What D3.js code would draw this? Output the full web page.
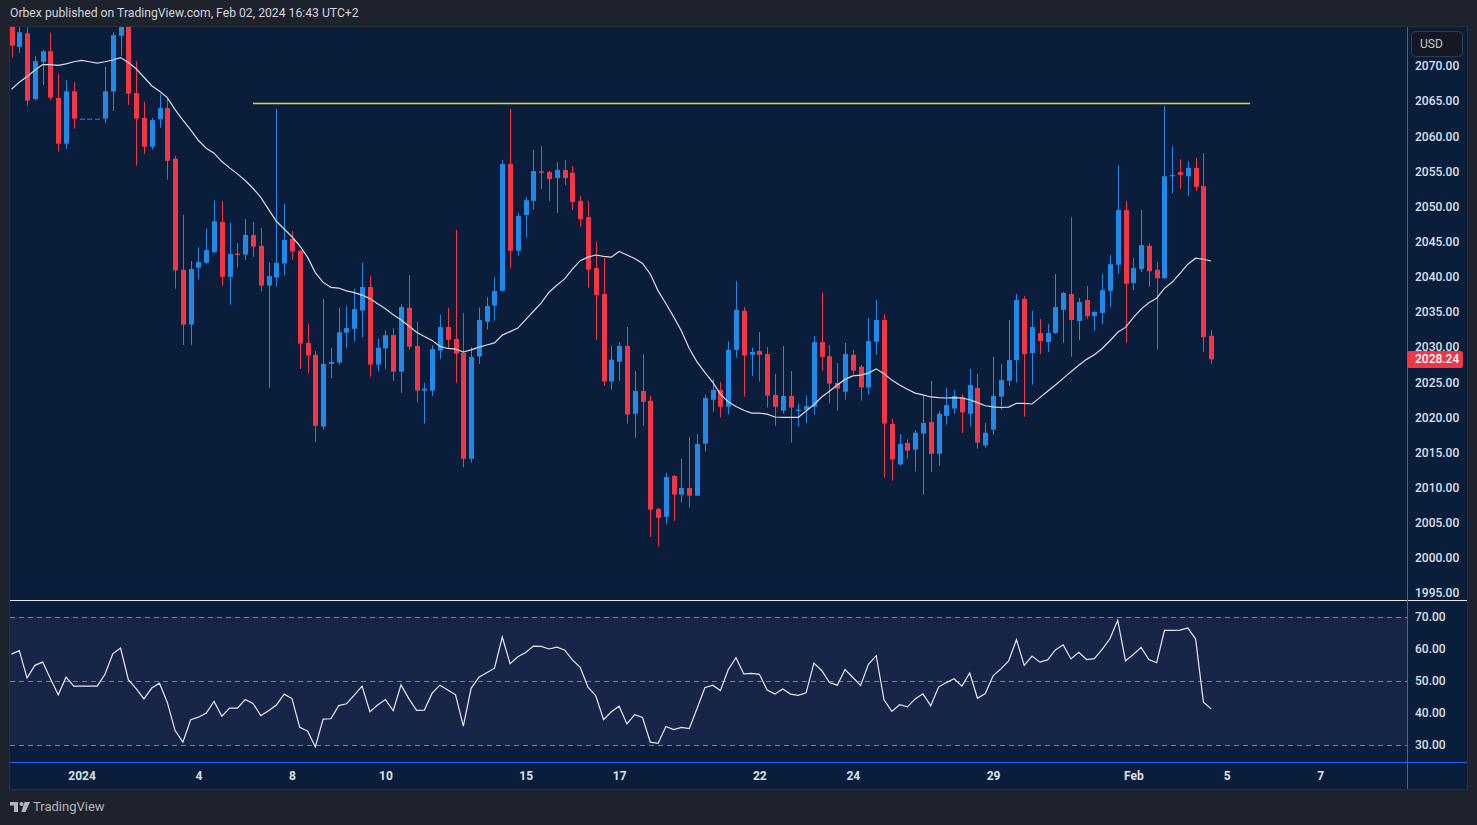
<!DOCTYPE html>
<html>
<head>
<meta charset="utf-8">
<script src="https://cdn.jsdelivr.net/npm/d3@7"></script>
<style>
	html, body { margin: 0; padding: 0; background: #1e222d; }
	svg { display: block; font-family: Roboto, "Noto Sans", sans-serif; }
</style>
</head>
<body>
<svg id="chart" width="1477" height="825"></svg>
<script>
"use strict";

// XAUUSD 4h candles, Dec 29 2023 .. Feb 02 2024
const opens = [
	2076.0, 2072.7, 2074.65, 2065.3, 2070.6, 2072.1, 2065.45, 2058.95, 2066.4, 2062.5,
	2062.5, 2062.5, 2062.5, 2066.35, 2074.3, 2076.0, 2066.15, 2062.6, 2058.5, 2062.4,
	2064.0, 2056.8, 2041.0, 2033.2, 2041.3, 2042.0, 2043.5, 2047.8, 2040.0, 2043.3,
	2043.15, 2045.95, 2044.4, 2038.75, 2039.9, 2041.9, 2045.4, 2043.7, 2030.6, 2028.9,
	2018.7, 2027.6, 2027.8, 2032.05, 2032.6, 2035.2, 2038.55, 2027.5, 2029.8, 2031.7,
	2026.5, 2035.6, 2030.15, 2023.8, 2023.8, 2029.5, 2032.85, 2031.15, 2029.2, 2014.1,
	2028.65, 2033.6, 2035.9, 2038.0, 2056.05, 2043.7, 2048.8, 2050.8, 2055.0, 2054.9,
	2054.05, 2055.2, 2054.8, 2050.8, 2048.5, 2041.25, 2037.55, 2025.1, 2027.9, 2030.15,
	2020.5, 2023.75, 2022.35, 2006.95, 2005.85, 2011.65, 2009.0, 2009.95, 2008.85, 2016.25,
	2022.5, 2023.9, 2021.5, 2029.6, 2035.15, 2028.9, 2029.45, 2029.0, 2023.2, 2020.95,
	2023.05, 2020.9, 2021.05, 2021.5, 2030.7, 2028.7, 2024.9, 2023.65, 2028.9, 2027.2,
	2024.25, 2030.75, 2033.85, 2019.05, 2013.3, 2016.35, 2015.4, 2017.7, 2019.35, 2014.8,
	2020.2, 2021.25, 2022.9, 2020.5, 2024.2, 2016.0, 2018.25, 2022.95, 2025.2, 2028.15,
	2036.85, 2029.15, 2032.0, 2030.7, 2032.0, 2035.3, 2037.55, 2033.7, 2036.7, 2034.4,
	2034.85, 2038.0, 2041.7, 2049.5, 2039.1, 2041.1, 2044.4, 2041.0, 2039.8, 2054.3,
	2054.9, 2054.3, 2055.5, 2052.9, 2031.6
];
const highs = [
	2077.0, 2075.6, 2075.5, 2071.4, 2072.3, 2074.7, 2068.9, 2068.0, 2067.7, 2062.5,
	2062.5, 2062.5, 2069.9, 2074.8, 2077.0, 2077.0, 2070.7, 2064.9, 2062.6, 2066.0,
	2065.45, 2057.2, 2048.8, 2042.25, 2044.2, 2046.9, 2050.9, 2050.8, 2047.7, 2044.8,
	2048.2, 2047.8, 2046.95, 2042.0, 2063.9, 2050.4, 2046.5, 2043.8, 2033.3, 2029.45,
	2036.85, 2029.9, 2035.6, 2035.85, 2038.3, 2042.0, 2040.1, 2031.2, 2032.4, 2032.7,
	2036.1, 2040.25, 2033.6, 2024.9, 2030.25, 2034.6, 2035.6, 2046.7, 2034.85, 2030.0,
	2035.6, 2037.1, 2040.0, 2056.6, 2063.9, 2049.1, 2051.35, 2058.05, 2058.6, 2055.05,
	2056.3, 2056.6, 2055.8, 2051.5, 2050.8, 2045.0, 2042.7, 2030.15, 2030.7, 2032.85,
	2026.6, 2029.0, 2023.05, 2007.15, 2012.1, 2011.8, 2014.1, 2017.2, 2017.6, 2023.2,
	2025.45, 2025.0, 2030.85, 2039.4, 2035.7, 2029.9, 2032.15, 2030.0, 2026.2, 2030.15,
	2026.6, 2021.95, 2023.1, 2031.6, 2037.8, 2030.3, 2027.7, 2030.6, 2029.6, 2027.45,
	2034.15, 2036.7, 2034.7, 2019.8, 2017.6, 2016.9, 2018.2, 2023.2, 2025.2, 2020.9,
	2024.2, 2023.9, 2023.3, 2026.9, 2026.2, 2019.2, 2028.6, 2027.6, 2033.85, 2037.55,
	2037.25, 2035.15, 2034.0, 2033.3, 2040.4, 2037.85, 2048.5, 2037.0, 2038.7, 2035.1,
	2040.4, 2043.1, 2055.9, 2050.8, 2042.7, 2049.5, 2044.8, 2042.1, 2064.3, 2058.6,
	2056.7, 2056.45, 2056.9, 2057.6, 2032.4
];
const lows = [
	2071.2, 2071.9, 2064.35, 2065.1, 2067.3, 2065.1, 2057.8, 2058.2, 2061.1, 2062.5,
	2062.5, 2062.5, 2061.9, 2063.6, 2071.4, 2064.45, 2055.8, 2057.5, 2058.1, 2061.2,
	2053.8, 2038.3, 2030.3, 2030.3, 2039.6, 2041.8, 2043.35, 2038.7, 2036.0, 2041.3,
	2042.4, 2042.85, 2037.9, 2024.2, 2038.6, 2040.2, 2042.4, 2026.9, 2026.25, 2016.5,
	2018.25, 2025.6, 2027.5, 2029.9, 2030.8, 2031.35, 2025.8, 2026.5, 2026.9, 2025.2,
	2023.5, 2029.6, 2022.1, 2019.1, 2023.05, 2028.3, 2029.8, 2024.9, 2012.85, 2013.55,
	2027.6, 2032.5, 2033.75, 2037.9, 2041.2, 2043.0, 2045.6, 2049.55, 2052.5, 2050.8,
	2049.1, 2053.05, 2049.5, 2047.1, 2038.45, 2031.0, 2024.5, 2023.95, 2025.2, 2019.1,
	2017.1, 2018.8, 2003.0, 2001.6, 2004.85, 2005.3, 2007.85, 2007.15, 2008.8, 2015.1,
	2020.8, 2020.0, 2020.4, 2028.5, 2022.95, 2025.9, 2025.1, 2021.4, 2018.8, 2020.5,
	2016.4, 2018.7, 2019.2, 2020.4, 2026.6, 2022.0, 2020.95, 2022.5, 2026.1, 2022.4,
	2023.25, 2028.9, 2011.4, 2011.0, 2013.1, 2014.1, 2012.3, 2009.0, 2012.2, 2013.1,
	2019.0, 2020.5, 2017.8, 2018.7, 2015.55, 2015.7, 2017.5, 2021.1, 2024.5, 2024.95,
	2020.1, 2024.65, 2029.0, 2029.3, 2031.85, 2030.6, 2028.6, 2031.0, 2034.0, 2032.3,
	2033.3, 2035.7, 2040.4, 2030.6, 2038.1, 2040.7, 2038.55, 2029.7, 2039.7, 2051.9,
	2052.5, 2051.5, 2052.2, 2029.3, 2027.6
];
const closes = [
	2072.9, 2074.8, 2065.06, 2070.7, 2072.1, 2065.5, 2058.95, 2066.4, 2062.5, 2062.5,
	2062.5, 2062.5, 2066.4, 2074.4, 2076.0, 2066.05, 2062.5, 2058.5, 2062.3, 2064.0,
	2056.5, 2040.9, 2033.2, 2041.1, 2042.1, 2043.8, 2047.9, 2040.0, 2043.25, 2043.1,
	2045.95, 2044.3, 2038.75, 2040.1, 2042.0, 2045.25, 2043.6, 2030.5, 2028.8, 2018.8,
	2027.6, 2027.9, 2032.1, 2032.7, 2035.4, 2038.55, 2027.5, 2029.9, 2031.7, 2026.5,
	2035.7, 2030.05, 2023.8, 2024.1, 2029.7, 2032.85, 2031.05, 2029.05, 2014.1, 2028.6,
	2033.85, 2035.85, 2038.0, 2056.05, 2043.7, 2048.65, 2050.9, 2055.05, 2054.8, 2053.9,
	2055.2, 2054.05, 2050.65, 2048.2, 2041.0, 2037.4, 2025.1, 2028.2, 2030.15, 2020.4,
	2023.75, 2022.2, 2006.85, 2005.7, 2011.5, 2009.0, 2009.95, 2008.85, 2016.2, 2022.75,
	2023.9, 2021.5, 2029.6, 2035.3, 2028.8, 2029.3, 2028.9, 2023.1, 2021.5, 2023.05,
	2021.4, 2021.1, 2021.6, 2030.7, 2028.6, 2024.8, 2024.1, 2029.0, 2026.65, 2024.25,
	2030.85, 2033.85, 2019.1, 2014.0, 2016.2, 2015.25, 2017.8, 2019.2, 2014.8, 2020.5,
	2021.75, 2023.05, 2020.7, 2024.6, 2016.4, 2017.8, 2023.05, 2025.3, 2028.15, 2036.7,
	2029.0, 2032.85, 2030.85, 2032.0, 2035.7, 2037.7, 2033.85, 2036.4, 2034.4, 2035.0,
	2038.1, 2041.8, 2049.5, 2039.0, 2041.25, 2044.5, 2040.8, 2039.8, 2054.3, 2054.5,
	2054.5, 2055.5, 2052.8, 2031.4, 2028.24
];
// moving average drawn on the price pane
const ma20 = [
	2066.7, 2067.7, 2068.5, 2069.4, 2070.2, 2070.2, 2070.1, 2070.3, 2070.6, 2070.8,
	2070.6, 2070.4, 2070.6, 2070.85, 2071.2, 2070.5, 2069.6, 2068.4, 2067.2, 2066.4,
	2065.5, 2063.8, 2062.3, 2060.9, 2059.4, 2058.3, 2057.6, 2056.4, 2055.5, 2054.65,
	2053.7, 2052.6, 2051.3, 2049.6, 2047.9, 2046.8, 2045.7, 2044.4, 2042.8, 2040.6,
	2039.2, 2038.5, 2038.4, 2038.0, 2037.75, 2037.4, 2036.9, 2036.15, 2035.45, 2034.6,
	2033.9, 2033.0, 2032.1, 2031.5, 2030.95, 2030.1, 2029.8, 2029.7, 2029.3, 2029.6,
	2030.0, 2030.3, 2030.6, 2031.7, 2032.2, 2032.7, 2033.9, 2035.1, 2036.3, 2037.8,
	2038.8, 2039.7, 2041.1, 2042.3, 2042.8, 2043.1, 2042.9, 2042.8, 2043.6, 2043.1,
	2042.6, 2041.9, 2040.4, 2038.0, 2036.2, 2034.3, 2032.3, 2029.8, 2027.9, 2026.4,
	2025.0, 2023.3, 2022.2, 2021.55, 2021.0, 2020.6, 2020.6, 2020.45, 2020.05, 2020.0,
	2020.0, 2020.0, 2020.9, 2021.8, 2022.9, 2023.7, 2024.6, 2025.4, 2025.9, 2026.0,
	2026.3, 2026.9, 2026.2, 2025.3, 2024.6, 2024.0, 2023.45, 2023.2, 2022.9, 2022.8,
	2022.75, 2022.8, 2022.75, 2022.5, 2022.1, 2021.65, 2021.5, 2021.4, 2021.45, 2022.0,
	2022.0, 2021.9, 2022.8, 2023.7, 2024.6, 2025.55, 2026.5, 2027.4, 2028.25, 2028.9,
	2029.8, 2030.9, 2032.1, 2032.8, 2034.2, 2035.4, 2036.3, 2036.95, 2038.35, 2039.25,
	2040.5, 2041.8, 2042.65, 2042.5, 2042.25
];
const rsi14 = [
	58.4, 59.5, 50.9, 54.9, 55.9, 50.7, 45.7, 51.2, 48.4, 48.4,
	48.4, 48.4, 52.1, 58.5, 60.3, 50.4, 47.6, 44.4, 47.8, 49.3,
	43.3, 34.5, 30.9, 37.9, 38.7, 40.0, 43.6, 39.0, 41.5, 41.5,
	44.2, 43.0, 39.2, 40.7, 42.5, 45.9, 44.5, 35.5, 34.4, 29.4,
	38.1, 38.2, 42.3, 42.9, 45.6, 48.4, 40.4, 42.5, 44.2, 40.7,
	48.8, 44.5, 40.8, 40.9, 46.2, 48.7, 47.2, 45.7, 35.9, 47.7,
	51.2, 52.6, 54.0, 63.7, 55.4, 57.6, 58.9, 60.9, 60.8, 60.0,
	60.6, 59.7, 56.6, 54.3, 48.1, 45.4, 37.9, 40.4, 42.1, 36.6,
	39.5, 38.6, 30.9, 30.5, 35.8, 34.8, 35.5, 35.1, 41.4, 47.9,
	48.7, 47.0, 53.5, 57.3, 52.2, 52.4, 52.1, 47.2, 45.9, 47.5,
	45.9, 45.5, 46.3, 55.6, 53.3, 49.5, 48.7, 53.6, 51.1, 48.6,
	55.2, 57.9, 44.1, 40.5, 42.6, 41.9, 44.4, 46.0, 42.3, 48.1,
	49.5, 50.7, 48.4, 52.5, 44.6, 46.1, 51.6, 53.8, 56.3, 62.9,
	54.9, 57.8, 55.9, 56.6, 59.7, 61.3, 56.9, 59.0, 56.7, 57.0,
	59.9, 63.2, 69.0, 56.3, 58.3, 60.5, 56.7, 55.7, 65.8, 65.8,
	65.9, 66.6, 63.1, 43.4, 41.3
];

// time axis: candle index where each label sits
const timeTickIndex = [9, 24, 36, 48, 66, 78, 96, 108, 126, 144, 156, 168];
const timeTickLabels = ["2024", "4", "8", "10", "15", "17", "22", "24", "29", "Feb", "5", "7"];
const priceTicks = [1995, 2000, 2005, 2010, 2015, 2020, 2025, 2030, 2035, 2040, 2045, 2050, 2055, 2060, 2065, 2070];
const rsiTicks = [30, 40, 50, 60, 70];
const rsiLevels = [70, 50, 30];

// horizontal resistance drawn by the author
const resistancePrice = 2064.7;
const resistanceFrom = 31;
const resistanceTo = 159;
const lastPrice = 2028.24;

const UP = "#2189e8";
const DOWN = "#f23645";
const TEXT = "#dde0e7";

const svg = d3.select("#chart");

// pane geometry
const left = 10, right = 1467, axisX = 1407;
const mainTop = 27, mainBottom = 600, rsiBottom = 762, frameBottom = 789;

const x = d3.scaleLinear().domain([0, 154]).range([11.5, 1211.2]);
const y = d3.scaleLinear().domain([1995, 2070]).range([593, 66]);
const yr = d3.scaleLinear().domain([30, 70]).range([745, 617]);

const defs = svg.append("defs");
defs.append("clipPath").attr("id", "clipMain")
	.append("rect").attr("x", left).attr("y", mainTop)
	.attr("width", axisX - left).attr("height", mainBottom - mainTop);
defs.append("clipPath").attr("id", "clipRsi")
	.append("rect").attr("x", left).attr("y", mainBottom)
	.attr("width", axisX - left).attr("height", rsiBottom - mainBottom);

// header
svg.append("text")
	.attr("x", 10).attr("y", 14)
	.attr("dominant-baseline", "middle")
	.attr("fill", "#d1d4dc")
	.attr("font-size", 12.2)
	.text("Orbex published on TradingView.com, Feb 02, 2024 16:43 UTC+2");

// frame
svg.append("rect")
	.attr("x", left - 0.5).attr("y", mainTop - 0.5)
	.attr("width", right - left + 1).attr("height", frameBottom - mainTop + 1)
	.attr("fill", "#0a1e3c")
	.attr("stroke", "#2a2e39");

// rsi band + levels
svg.append("rect")
	.attr("x", left).attr("y", yr(70))
	.attr("width", axisX - left).attr("height", yr(30) - yr(70))
	.attr("fill", "#162548");

svg.append("g").selectAll("line")
	.data(rsiLevels)
	.join("line")
	.attr("x1", left).attr("x2", axisX)
	.attr("y1", d => Math.round(yr(d)) + 0.5)
	.attr("y2", d => Math.round(yr(d)) + 0.5)
	.attr("stroke", "#7d808b")
	.attr("stroke-dasharray", "5,4");

// resistance line
svg.append("line")
	.attr("x1", x(resistanceFrom)).attr("x2", x(resistanceTo))
	.attr("y1", Math.round(y(resistancePrice)) + 0.5)
	.attr("y2", Math.round(y(resistancePrice)) + 0.5)
	.attr("stroke", "#ecd21f")
	.attr("stroke-width", 1.3);

// candles
const candles = opens.map((o, i) => ({ i: i, o: o, h: highs[i], l: lows[i], c: closes[i] }));

const gCandles = svg.append("g").attr("clip-path", "url(#clipMain)");

const candle = gCandles.selectAll("g")
	.data(candles)
	.join("g")
	.attr("fill", d => d.c >= d.o ? UP : DOWN)
	.attr("stroke", d => d.c >= d.o ? UP : DOWN);

candle.append("line")
	.attr("x1", d => Math.round(x(d.i)) + 0.5)
	.attr("x2", d => Math.round(x(d.i)) + 0.5)
	.attr("y1", d => y(d.h))
	.attr("y2", d => y(d.l))
	.attr("stroke-width", 1);

candle.append("rect")
	.attr("x", d => Math.round(x(d.i)) - 2)
	.attr("width", 5)
	.attr("y", d => y(Math.max(d.o, d.c)))
	.attr("height", d => Math.max(1, Math.abs(y(d.o) - y(d.c))))
	.attr("stroke", "none");

// moving average
gCandles.append("path")
	.datum(ma20)
	.attr("fill", "none")
	.attr("stroke", "#d9dce3")
	.attr("stroke-width", 1.2)
	.attr("d", d3.line().x((d, i) => x(i)).y(d => y(d)));

// rsi line
svg.append("g").attr("clip-path", "url(#clipRsi)")
	.append("path")
	.datum(rsi14)
	.attr("fill", "none")
	.attr("stroke", "#e6e8ee")
	.attr("stroke-width", 1.2)
	.attr("d", d3.line().x((d, i) => x(i)).y(d => yr(d)));

// separators
svg.append("line")
	.attr("x1", left).attr("x2", right)
	.attr("y1", mainBottom + 0.5).attr("y2", mainBottom + 0.5)
	.attr("stroke", "#e6e8ee");
svg.append("line")
	.attr("x1", left).attr("x2", right)
	.attr("y1", rsiBottom + 0.5).attr("y2", rsiBottom + 0.5)
	.attr("stroke", "#2962ff");
svg.append("line")
	.attr("x1", axisX + 0.5).attr("x2", axisX + 0.5)
	.attr("y1", mainTop).attr("y2", frameBottom)
	.attr("stroke", "#2962ff");

// axes
const styleAxis = (g, weight) => {
	g.select(".domain").remove();
	g.selectAll("text")
		.attr("fill", TEXT)
		.attr("font-size", 12)
		.attr("font-weight", weight)
		.attr("font-family", "Roboto, 'Noto Sans', sans-serif");
};

svg.append("g")
	.attr("transform", `translate(${axisX},0)`)
	.call(d3.axisRight(y).tickValues(priceTicks).tickFormat(d3.format(".2f")).tickSize(0).tickPadding(8))
	.call(g => styleAxis(g, 500));

svg.append("g")
	.attr("transform", `translate(${axisX},0)`)
	.call(d3.axisRight(yr).tickValues(rsiTicks).tickFormat(d3.format(".2f")).tickSize(0).tickPadding(8))
	.call(g => styleAxis(g, 500));

svg.append("g")
	.attr("transform", `translate(0,${rsiBottom})`)
	.call(d3.axisBottom(x).tickValues(timeTickIndex).tickFormat((d, i) => timeTickLabels[i]).tickSize(0).tickPadding(9.5))
	.call(g => styleAxis(g, 700));

// currency badge
svg.append("rect")
	.attr("x", 1411.5).attr("y", 31.5)
	.attr("width", 51).attr("height", 25).attr("rx", 4)
	.attr("fill", "#141824")
	.attr("stroke", "#363a45");
svg.append("text")
	.attr("x", 1420).attr("y", 44.5)
	.attr("dominant-baseline", "middle")
	.attr("fill", "#c3c6ce")
	.attr("font-size", 12)
	.text("USD");

// last price marker
const lastY = y(lastPrice);
svg.append("rect")
	.attr("x", axisX).attr("y", Math.round(lastY) - 8)
	.attr("width", 56).attr("height", 17).attr("rx", 2)
	.attr("fill", DOWN);
svg.append("text")
	.attr("x", axisX + 8).attr("y", Math.round(lastY) + 0.5)
	.attr("dominant-baseline", "middle")
	.attr("fill", "#ffffff")
	.attr("font-size", 12)
	.attr("font-weight", 500)
	.text(d3.format(".2f")(lastPrice));

// footer logo
const logo = svg.append("g").attr("fill", "#b2b5be");
logo.append("path").attr("d", "M10,802 h8 v10 h-4 v-6.5 h-4 z");
logo.append("circle").attr("cx", 21.5).attr("cy", 804).attr("r", 2);
logo.append("path").attr("d", "M24.5,802 h5.5 l-4.5,10 h-4.2 z");
svg.append("text")
	.attr("x", 33).attr("y", 807.5)
	.attr("dominant-baseline", "middle")
	.attr("fill", "#b2b5be")
	.attr("font-size", 13)
	.text("TradingView");
</script>
</body>
</html>
